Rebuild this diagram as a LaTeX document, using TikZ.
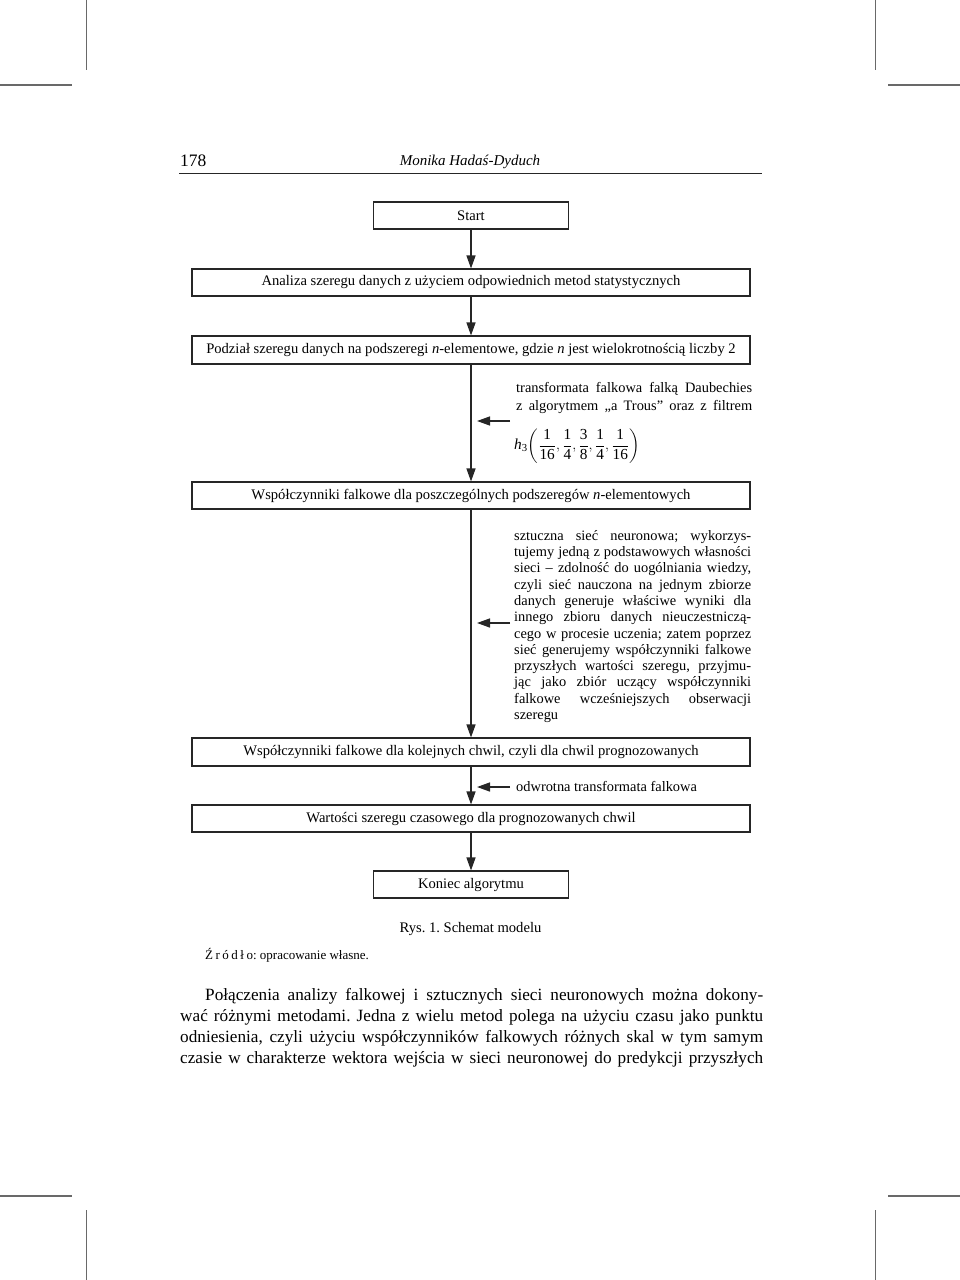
\documentclass[tikz,border=0pt]{standalone}
\usepackage{fontspec}
\setmainfont{Liberation Serif}
\usepackage{amsmath}
\usetikzlibrary{arrows.meta, calc}
\definecolor{ink}{RGB}{38,38,38}
\definecolor{cropgray}{RGB}{105,105,105}
\frenchspacing
\newcommand{\flowfont}{\fontsize{14.6}{16.3}\selectfont}
\newcommand{\notefont}{\fontsize{14.4}{16.3}\selectfont}
\newcommand{\jline}[2][237pt]{\hbox to #1{\spaceskip=.25em plus 1fil minus .07em\relax #2}\par}

\begin{document}
\begin{tikzpicture}[x=1pt, y=-1pt, font=\flowfont,
  box/.style={draw=ink, line width=1.1pt, minimum height=27pt, inner sep=0pt},
  wide/.style={box, minimum width=558pt},
  narrow/.style={box, minimum width=195pt},
  flow/.style={draw=ink, line width=1.4pt, -{Triangle[length=13pt,width=9pt]}},
  side/.style={flow, shorten >=6pt},
  note/.style={inner sep=0pt, text width=237pt, font=\notefont},
  crop/.style={draw=cropgray, line width=1pt}]
  \useasboundingbox (0,0) rectangle (960,1280);
  % crop marks
  \draw[crop] (86,0) -- (86,70) (875,0) -- (875,70);
  \draw[crop, line width=1.6pt] (0,85) -- (72,85) (888,85) -- (960,85);
  \draw[crop, line width=1.6pt] (0,1196) -- (72,1196) (888,1196) -- (960,1196);
  \draw[crop] (86,1210) -- (86,1280) (875,1210) -- (875,1280);
  % running head
  \node[anchor=base west, inner sep=0pt, font=\fontsize{17.5}{20}\selectfont] (folio) at (180,166) {178};
  \node[anchor=base, inner sep=0pt, font=\fontsize{15}{18}\selectfont\itshape] (author) at (470,165) {Monika Hadaś-Dyduch};
  \draw[ink, line width=0.8pt] (179,173) -- (762,173);
  % main flow
  \node[narrow] (start) at (471,215.5) {Start};
  \node[wide] (analiza) at (471,282.5) {Analiza szeregu danych z użyciem odpowiednich metod statystycznych};
  \node[wide, minimum height=28pt] (podzial) at (471,350)
    {Podział szeregu danych na podszeregi \textit{n}-elementowe, gdzie \textit{n} jest wielokrotnością liczby 2};
  \node[wide] (falkowe) at (471,495.5) {Współczynniki falkowe dla poszczególnych podszeregów \textit{n}-elementowych};
  \node[wide, minimum height=28pt] (kolejne) at (471,752)
    {Współczynniki falkowe dla kolejnych chwil, czyli dla chwil prognozowanych};
  \node[wide] (wartosci) at (471,818.5) {Wartości szeregu czasowego dla prognozowanych chwil};
  \node[narrow] (koniec) at (471,884.5) {Koniec algorytmu};
  \foreach \a/\b in {start/analiza, analiza/podzial, podzial/falkowe,
                     falkowe/kolejne, kolejne/wartosci, wartosci/koniec}
    \draw[flow] (\a) -- (\b);
  % side notes
  \node[note, text width=236pt, anchor=north west, font=\fontsize{14.4}{18}\selectfont] (daub) at (516,382)
    {\jline[236pt]{transformata falkowa falką Daubechies}%
     \jline[236pt]{z algorytmem „a Trous” oraz z filtrem}};
  \node[anchor=west, inner sep=0pt, font=\fontsize{15.3}{18}\selectfont] (filtr) at (514,446)
    {$\displaystyle \textit{h}_{\text{3}}\!\left(\frac{\text{1}}{\text{16}},\frac{\text{1}}{\text{4}},
      \frac{\text{3}}{\text{8}},\frac{\text{1}}{\text{4}},\frac{\text{1}}{\text{16}}\right)$};
  \coordinate (in1) at (510,421);
  \draw[side] (in1) -- (in1 -| podzial.south);
  \node[note, anchor=north west] (siec) at (514,530)
    {\jline{sztuczna sieć neuronowa; wykorzys-}%
     \jline{tujemy jedną z podstawowych własności}%
     \jline{sieci – zdolność do uogólniania wiedzy,}%
     \jline{czyli sieć nauczona na jednym zbiorze}%
     \jline{danych generuje właściwe wyniki dla}%
     \jline{innego zbioru danych nieuczestniczą-}%
     \jline{cego w procesie uczenia; zatem poprzez}%
     \jline{sieć generujemy współczynniki falkowe}%
     \jline{przyszłych wartości szeregu, przyjmu-}%
     \jline{jąc jako zbiór uczący współczynniki}%
     \jline{falkowe wcześniejszych obserwacji}%
     \hbox{szeregu}};
  \coordinate (in2) at (510,623);
  \draw[side] (in2) -- (in2 -| falkowe.south);
  \node[anchor=base west, inner sep=0pt, font=\notefont] (odwrotna) at (516,791) {odwrotna transformata falkowa};
  \coordinate (in3) at (510,787);
  \draw[side] (in3) -- (in3 -| kolejne.south);
  % caption and source
  \node[anchor=base, inner sep=0pt] (rys) at (470.5,932) {Rys. 1. Schemat modelu};
  \node[anchor=base west, inner sep=0pt, font=\fontsize{13}{15}\selectfont] (zrodlo) at (205,959)
    {Ź\kern2.5pt r\kern2.5pt ó\kern2.5pt d\kern2.5pt ł\kern2.5pt o: opracowanie własne.};
  % running text
  \node[inner sep=0pt, text width=583pt, anchor=north west, font=\fontsize{17.2}{21}\selectfont] (tekst) at (180,988)
    {\jline[583pt]{\hspace{25pt}Połączenia analizy falkowej i sztucznych sieci neuronowych można dokony-}%
     \jline[583pt]{wać różnymi metodami. Jedna z wielu metod polega na użyciu czasu jako punktu}%
     \jline[583pt]{odniesienia, czyli użyciu współczynników falkowych różnych skal w tym samym}%
     \jline[583pt]{czasie w charakterze wektora wejścia w sieci neuronowej do predykcji przyszłych}};
\end{tikzpicture}
\end{document}
